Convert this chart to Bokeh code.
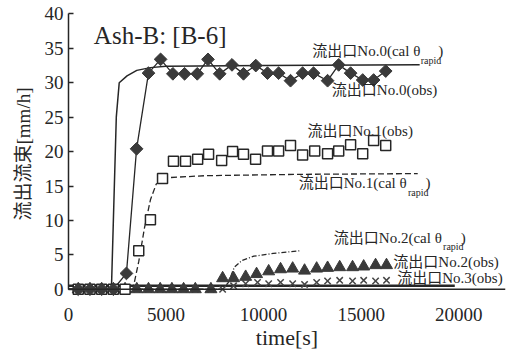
import math
from bokeh.plotting import figure
from bokeh.models import Range1d, Label, Span, FixedTicker
from bokeh.embed import file_html
from bokeh.resources import INLINE

# ---- data ----
t0_obs = [500, 1100, 1700, 2300, 2970, 3490, 4100, 4720, 5350, 5950, 6600, 7150, 7750, 8380,
          8970, 9600, 10200, 10770, 11380, 12000, 12560, 13280, 13850, 14460, 15080, 15640, 16260]
q0_obs = [0, 0, 0, 0, 2.3, 20.4, 31.4, 33.4, 31.3, 31.3, 31.3, 33.4, 31.3, 32.6,
          31.3, 32.5, 31.4, 31.4, 30.3, 31.4, 31.4, 30.3, 32.6, 31.4, 30.4, 30.4, 31.7]

t0_cal = [0, 2200, 2300, 2450, 2600, 3000, 3500, 4200, 5000, 10000, 18000]
q0_cal = [0, 0, 10, 25, 30, 31, 31.8, 32.2, 32.4, 32.5, 32.6]

t1_obs = [500, 1100, 1700, 2300, 2900, 3600, 4200, 4820, 5380, 6000, 6620, 7180, 7850, 8410,
          8970, 9590, 10200, 10770, 11380, 12000, 12620, 13280, 13850, 14460, 15080, 15640, 16260]
q1_obs = [0, 0, 0, 0, 0, 5.6, 10.1, 16.1, 18.6, 18.6, 18.9, 19.6, 18.7, 20.0,
          19.6, 18.9, 20.1, 20.1, 20.9, 19.5, 20.1, 19.7, 20.1, 21.0, 19.7, 21.6, 20.9]

t1_cal = [0, 3300, 3600, 3900, 4200, 4500, 5000, 7000, 12000, 17900]
q1_cal = [0, 0, 4, 9, 13, 15.3, 16.2, 16.5, 16.7, 16.8]

t2_obs = [500, 1100, 1700, 2300, 2900, 3500, 4100, 4700, 5300, 5900, 6500, 7300, 7900, 8460,
          9080, 9640, 10260, 10870, 11490, 12100, 12720, 13280, 13900, 14560, 15130, 15740, 16300]
q2_obs = [0, 0, 0, 0, 0, 0, 0, 0, 0, 0, 0, 0, 1.6, 1.6,
          1.8, 2.2, 2.6, 2.9, 3.0, 2.7, 3.0, 3.1, 3.2, 3.2, 3.3, 3.5, 3.5]

t2_cal = [0, 7900, 8200, 8500, 8900, 9500, 10500, 11900]
q2_cal = [0, 0, 1, 3.2, 4.2, 4.8, 5.2, 5.6]

t3_obs = [500, 1100, 1700, 2300, 2900, 3500, 4100, 4700, 5300, 5900, 6500, 7300, 7900, 8460,
          9080, 9690, 10260, 10870, 11490, 12100, 12720, 13280, 13900, 14560, 15130, 15740, 16300]
q3_obs = [0, 0, 0, 0, 0, 0, 0, 0, 0, 0, 0, 0, 0, 0.5,
          0.8, 1.0, 0.8, 1.0, 0.8, 0.7, 1.0, 1.2, 1.3, 1.2, 1.3, 1.2, 1.3]

t3_line = [0, 19800]
q3_line = [0.5, 0.5]

x_ticks = [0, 5000, 10000, 15000, 20000]
y_ticks = [0, 5, 10, 15, 20, 25, 30, 35, 40]

SERIF = "'Liberation Serif', serif"
FONT = "'Liberation Serif', 'Noto Sans CJK JP'"
INK = "#262626"

p = figure(width=511, height=352, output_backend="svg", toolbar_location=None,
           x_range=Range1d(0, 22400), y_range=Range1d(-1.2, 40.5),
           min_border_left=68, min_border_right=6, min_border_top=10, min_border_bottom=50)
p.outline_line_color = None
p.xgrid.grid_line_color = None
p.ygrid.grid_line_color = None
p.background_fill_color = "white"
p.border_fill_color = "white"

# axes
p.yaxis.ticker = FixedTicker(ticks=y_ticks)
p.yaxis.bounds = (0, 40)
p.yaxis.axis_line_color = INK
p.yaxis.axis_line_width = 1.5
p.yaxis.major_tick_in = 5
p.yaxis.major_tick_out = 0
p.yaxis.major_tick_line_color = INK
p.yaxis.major_tick_line_width = 1.5
p.yaxis.minor_tick_line_color = None
p.yaxis.major_label_text_font = SERIF
p.yaxis.major_label_text_font_size = "19px"
p.yaxis.major_label_text_color = INK
p.yaxis.axis_label = "流出流束[mm/h]"
p.yaxis.axis_label_text_font = FONT
p.yaxis.axis_label_text_font_size = "19px"
p.yaxis.axis_label_text_font_style = "normal"
p.yaxis.axis_label_text_color = INK
p.yaxis.axis_label_standoff = 8

p.xaxis.ticker = FixedTicker(ticks=x_ticks)
p.xaxis.axis_line_color = None
p.xaxis.major_tick_line_color = None
p.xaxis.minor_tick_line_color = None
p.xaxis.major_label_text_font = SERIF
p.xaxis.major_label_text_font_size = "19px"
p.xaxis.major_label_text_color = INK
p.xaxis.major_label_standoff = 4
p.xaxis.axis_label = "time[s]"
p.xaxis.axis_label_text_font = SERIF
p.xaxis.axis_label_text_font_size = "22px"
p.xaxis.axis_label_text_font_style = "normal"
p.xaxis.axis_label_text_color = INK
p.xaxis.axis_label_standoff = 1

p.add_layout(Span(location=0, dimension="width", line_color=INK, line_width=1.5))

# series
p.line(t3_line, q3_line, line_color=INK, line_width=2.5)
p.line(t0_cal, q0_cal, line_color=INK, line_width=1.5)
p.line(t1_cal, q1_cal, line_color=INK, line_width=1.3, line_dash="6 3")
p.line(t2_cal, q2_cal, line_color=INK, line_width=1.3, line_dash="5 2 1 2")
p.line(t0_obs, q0_obs, line_color=INK, line_width=1.3)
p.scatter(t3_obs, q3_obs, marker="x", size=9, line_color="#444", line_width=1.5)
p.scatter(t2_obs, q2_obs, marker="triangle", size=12, fill_color="#3a3a3a", line_color="#3a3a3a")
p.scatter(t1_obs, q1_obs, marker="square", size=10, fill_color="white", line_color=INK, line_width=1.5)
p.scatter(t0_obs, q0_obs, marker="square", size=9, angle=math.pi / 4,
          fill_color="#3a3a3a", line_color="#3a3a3a")

# texts
def lab(x, y, text, size="15px", font=FONT):
    p.add_layout(Label(x=x, y=y, text=text, text_font=font, text_font_size=size,
                       text_color=INK, text_baseline="middle", text_align="left"))

lab(1300, 36.8, "Ash-B: [B-6]", "25px", SERIF)
lab(12500, 34.6, "流出口No.0(cal θ")
lab(18050, 33.3, "rapid", "10px", SERIF)
lab(18950, 34.6, ")")
lab(13500, 28.9, "流出口No.0(obs)")
lab(12250, 23.0, "流出口No.1(obs)")
lab(11800, 15.4, "流出口No.1(cal θ")
lab(17400, 14.1, "rapid", "10px", SERIF)
lab(18300, 15.4, ")")
lab(13600, 7.4, "流出口No.2(cal θ")
lab(19200, 6.2, "rapid", "10px", SERIF)
lab(20100, 7.4, ")")
lab(16650, 3.9, "流出口No.2(obs)")
lab(16850, 1.7, "流出口No.3(obs)")

open("out.html", "w").write(file_html(p, INLINE))
